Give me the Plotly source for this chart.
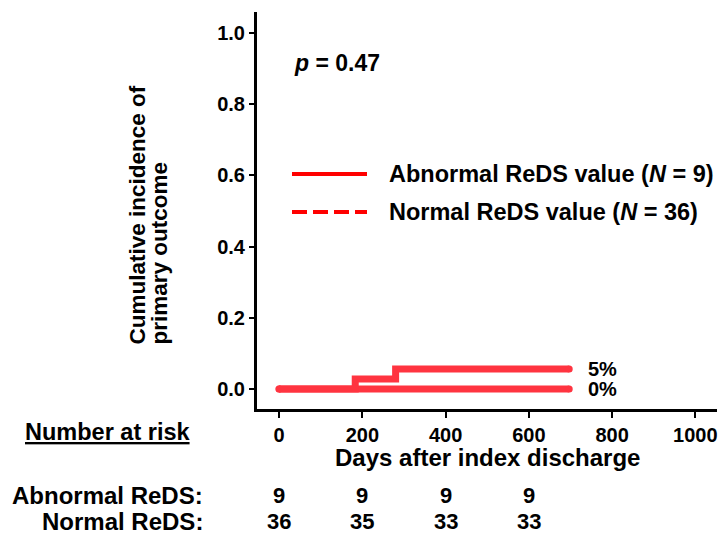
import plotly.graph_objects as go

# ---- data ----
abn_days = [0, 697]
abn_inc = [0.0, 0.0]
norm_days = [0, 183, 280, 697]
norm_inc = [0.0, 0.028, 0.056, 0.056]
end_labels = ["5%", "0%"]
end_values = [0.056, 0.0]

xticks = [0, 200, 400, 600, 800, 1000]
yticks = [0.0, 0.2, 0.4, 0.6, 0.8, 1.0]
risk_times = [0, 200, 400, 600]
risk_abn = [9, 9, 9, 9]
risk_norm = [36, 35, 33, 33]
legend_names = ["Abnormal ReDS value (<i>N</i> = 9)", "Normal ReDS value (<i>N</i> = 36)"]
p_text = "<i>p</i> = 0.47"

W, H = 719, 536
L, R, T, B = 257, 2, 12, 127
PW, PH = W - L - R, H - T - B

def px(xp):
    return (xp - L) / PW

def py(yp):
    return (H - B - yp) / PH

FONT = "Liberation Sans, Arial, sans-serif"
CURVE = "rgb(255,52,64)"

fig = go.Figure()
fig.add_trace(go.Scatter(x=abn_days, y=abn_inc, mode="lines+markers", line=dict(color=CURVE, width=7, shape="hv"),
                         marker=dict(size=7, color=CURVE), showlegend=False, hoverinfo="skip"))
fig.add_trace(go.Scatter(x=norm_days, y=norm_inc, mode="lines", line=dict(color=CURVE, width=7, shape="hv"),
                         showlegend=False, hoverinfo="skip"))
fig.add_trace(go.Scatter(x=[norm_days[0], norm_days[-1]], y=[norm_inc[0], norm_inc[-1]], mode="markers",
                         marker=dict(size=7, color=CURVE), showlegend=False, hoverinfo="skip"))

ann = []
bold = dict(family=FONT, color="black", weight="bold")

def add(text, x, y, size, xref="paper", yref="paper", xanchor="center", yanchor="middle", **kw):
    ann.append(dict(x=x, y=y, xref=xref, yref=yref, text=text, showarrow=False, xanchor=xanchor,
                    yanchor=yanchor, font=dict(size=size, **bold), **kw))

# p-value
add(p_text, 31, 0.916, 23, xref="x", yref="y", xanchor="left")
# end labels
for lab, v in zip(end_labels, end_values):
    add(lab, 737, v, 20, xref="x", yref="y", xanchor="left")
# legend (manual)
shapes = []
leg_y = [174, 212]
dashes = ["solid", "15px,6px"]
for name, yy, d in zip(legend_names, leg_y, dashes):
    shapes.append(dict(type="line", xref="paper", yref="paper", x0=px(292), x1=px(367), y0=py(yy), y1=py(yy),
                       line=dict(color="red", width=4, dash=d)))
    add(name, px(387), py(yy), 23.5, xanchor="left")
# y-axis title (two lines, bottom aligned)
for t, xx in [("Cumulative incidence of", 137), ("primary outcome", 159)]:
    add(t, px(xx), py(347), 22.5, yanchor="bottom", textangle=-90)
# x-axis title
add("Days after index discharge", 500, py(457), 24, xref="x")
# number at risk
add("<u>Number at risk</u>", px(192), py(432), 23.5, xanchor="right")
add("Abnormal ReDS:", px(205), py(495), 24, xanchor="right")
add("Normal ReDS:", px(205), py(521), 24, xanchor="right")
for t, a, n in zip(risk_times, risk_abn, risk_norm):
    add(str(a), t, py(495), 22, xref="x")
    add(str(n), t, py(521), 22, xref="x")

fig.update_layout(
    width=W, height=H, margin=dict(l=L, r=R, t=T, b=B),
    paper_bgcolor="white", plot_bgcolor="white",
    annotations=ann, shapes=shapes, showlegend=False,
    font=dict(family=FONT, color="black"),
)
fig.update_xaxes(range=[-53, 1052], tickvals=xticks, ticktext=[str(v) for v in xticks], showline=True,
                 linecolor="black", linewidth=3, ticks="outside", ticklen=6, tickwidth=1.5, tickcolor="black",
                 showgrid=False, zeroline=False, tickfont=dict(size=20, **bold))
fig.update_yaxes(range=[-0.056, 1.059], tickvals=yticks, ticktext=[f"{v:.1f}" for v in yticks], showline=True,
                 linecolor="black", linewidth=3, ticks="outside", ticklen=5, tickwidth=1.5, tickcolor="black",
                 showgrid=False, zeroline=False, tickfont=dict(size=20, **bold))

fig.write_html("out.html")
